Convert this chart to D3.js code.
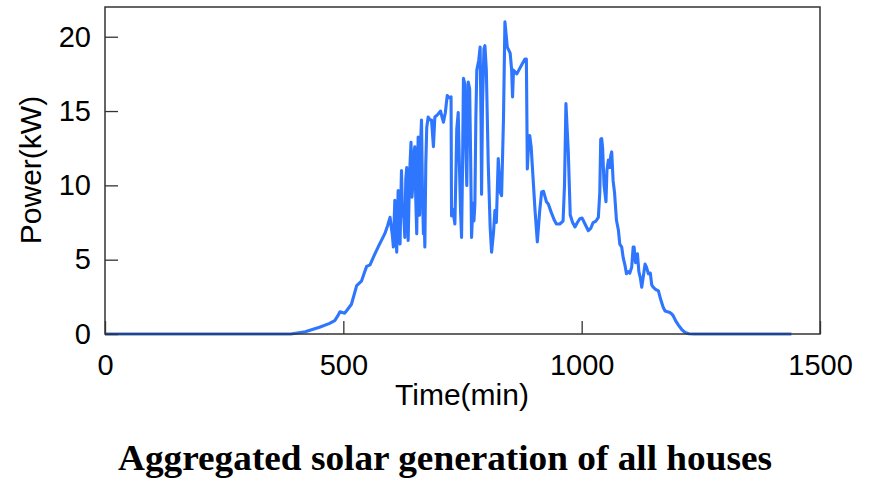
<!DOCTYPE html>
<html>
<head>
<meta charset="utf-8">
<script src="https://cdn.jsdelivr.net/npm/d3@7"></script>
<style>
  html, body { margin: 0; padding: 0; background: #fff; }
  svg { display: block; }
</style>
</head>
<body>
<svg id="chart" width="870" height="479"></svg>
<script>
// Aggregated solar generation, sampled minutes of the day (min) and power (kW)
const timeMin = [
  0, 390, 420, 450, 470, 482, 488, 493, 498, 503, 510, 517, 528, 533, 538, 545, 549, 556, 565, 573,
  580, 587, 593, 598, 603, 605, 608, 610, 612, 614, 615, 617, 619, 621, 622, 624, 627, 629, 631, 633,
  635, 636, 639, 642, 644, 647, 649, 650, 652, 654, 656, 657, 660, 662, 664, 666, 668, 669, 671, 673,
  675, 678, 682, 685, 687, 689, 692, 696, 699, 704, 707, 710, 714, 718, 722, 726, 727, 729, 731, 734,
  736, 738, 741, 743, 746, 748, 750, 752, 755, 757, 759, 762, 765, 767, 769, 772, 774, 776, 778, 780,
  784, 787, 789, 790, 792, 795, 797, 800, 804, 808, 811, 815, 818, 821, 825, 829, 832, 836, 839, 844,
  850, 853, 855, 857, 864, 874, 881, 884, 886, 888, 891, 894, 898, 902, 907, 912, 916, 920, 926, 930,
  936, 942, 947, 954, 961, 964, 967, 970, 972, 976, 981, 986, 991, 996, 1001, 1007, 1014, 1019, 1024, 1030,
  1035, 1038, 1040, 1042, 1044, 1047, 1051, 1053, 1056, 1059, 1061, 1063, 1066, 1069, 1073, 1077, 1080, 1084, 1087, 1091,
  1094, 1098, 1101, 1105, 1108, 1110, 1113, 1117, 1120, 1123, 1126, 1129, 1133, 1136, 1140, 1144, 1147, 1150, 1155, 1161,
  1166, 1171, 1175, 1180, 1185, 1189, 1192, 1197, 1203, 1210, 1217, 1225, 1235, 1300, 1440
];
const powerKW = [
  0, 0, 0.15, 0.45, 0.7, 0.9, 1.2, 1.5, 1.45, 1.4, 1.7, 2.0, 3.25, 3.4, 3.55, 4.2, 4.55, 4.65, 5.3, 5.85,
  6.3, 6.75, 7.3, 7.85, 6.6, 5.85, 9.0, 7.2, 5.5, 8.4, 9.65, 7.5, 6.05, 9.6, 11.0, 8.2, 7.8, 6.5, 10.4, 11.2,
  8.0, 6.3, 10.8, 12.9, 9.2, 10.55, 12.4, 12.6, 9.0, 6.75, 11.6, 13.25, 8.0, 12.8, 14.4, 9.5, 6.75, 8.6, 5.85, 11.5,
  13.9, 14.6, 14.4, 14.4, 13.5, 12.6, 14.6, 14.7, 14.8, 15.0, 14.6, 14.25, 14.9, 16.05, 15.9, 15.95, 7.95, 8.4, 8.1, 7.4,
  10.5, 13.8, 14.9, 12.0, 8.2, 6.5, 11.0, 17.2, 16.8, 12.5, 10.0, 16.95, 16.5, 12.0, 6.5, 8.8, 7.6, 8.75, 14.5, 17.75,
  18.4, 19.3, 14.0, 9.4, 15.5, 19.2, 19.4, 17.75, 11.45, 7.2, 5.5, 6.8, 8.3, 7.5, 11.8, 9.55, 9.3, 14.5, 21.0, 19.3,
  18.9, 17.8, 15.95, 17.75, 17.5, 18.1, 18.5, 18.5, 11.1, 12.4, 13.35, 12.6, 10.5, 8.4, 6.2, 8.3, 9.55, 9.6, 8.9, 8.75,
  8.2, 7.7, 7.4, 7.4, 7.6, 10.0, 15.5, 13.5, 12.2, 8.0, 7.5, 7.2, 7.5, 7.75, 7.8, 7.4, 6.95, 7.1, 7.5, 7.6,
  7.85, 9.5, 13.1, 13.15, 12.5, 10.0, 8.9, 11.0, 11.7, 11.2, 12.0, 12.25, 10.3, 9.5, 7.65, 7.0, 6.05, 5.85, 5.15, 4.6,
  4.05, 4.2, 4.1, 4.5, 5.85, 5.85, 4.8, 5.4, 4.2, 3.8, 3.15, 3.8, 4.7, 4.5, 4.05, 4.1, 3.3, 3.15, 3.0, 2.9,
  2.3, 1.8, 1.55, 1.5, 1.45, 1.35, 1.23, 0.9, 0.6, 0.3, 0.1, 0.02, 0, 0, 0
];
const xTicks = [0, 500, 1000, 1500];
const yTicks = [0, 5, 10, 15, 20];

const series = timeMin.map((t, i) => ({ t, v: powerKW[i] }));

const margin = { left: 105, top: 7, right: 50, bottom: 145 };
const width = 870, height = 479;
const innerW = width - margin.left - margin.right;   // 715
const innerH = height - margin.top - margin.bottom;  // 327

const svg = d3.select("#chart");
const g = svg.append("g").attr("transform", `translate(${margin.left},${margin.top})`);

const x = d3.scaleLinear().domain([0, 1500]).range([0, innerW]);
const y = d3.scaleLinear().domain([0, 22]).range([innerH, 0]);

const sansFont = "'Liberation Sans', Arial, Helvetica, sans-serif";

// generation curve
g.append("path")
  .datum(series)
  .attr("fill", "none")
  .attr("stroke", "#2f76ff")
  .attr("stroke-width", 3.1)
  .attr("stroke-linejoin", "round")
  .attr("d", d3.line().x(d => x(d.t)).y(d => y(d.v)));

// axes with inward ticks
const xAxis = g.append("g")
  .attr("transform", `translate(0,${innerH})`)
  .call(d3.axisBottom(x).tickValues(xTicks).tickSize(-13).tickPadding(20).tickFormat(d3.format("d")));
const yAxis = g.append("g")
  .call(d3.axisLeft(y).tickValues(yTicks).tickSize(-13).tickPadding(14).tickFormat(d3.format("d")));

[xAxis, yAxis].forEach(ax => {
  ax.select(".domain").remove();
  ax.selectAll(".tick line").attr("stroke", "#333").attr("stroke-width", 1.3);
  ax.selectAll(".tick text")
    .attr("fill", "#000")
    .style("font-family", sansFont)
    .style("font-size", "29px");
});

// frame
g.append("rect")
  .attr("x", 0).attr("y", 0)
  .attr("width", innerW).attr("height", innerH)
  .attr("fill", "none")
  .attr("stroke", "#333")
  .attr("stroke-width", 1.5);

// axis titles
svg.append("text")
  .attr("x", 462).attr("y", 405)
  .attr("text-anchor", "middle")
  .style("font-family", sansFont)
  .style("font-size", "30px")
  .text("Time(min)");

svg.append("text")
  .attr("transform", "translate(41,170) rotate(-90)")
  .attr("text-anchor", "middle")
  .style("font-family", sansFont)
  .style("font-size", "30px")
  .text("Power(kW)");

// caption
svg.append("text")
  .attr("x", 445).attr("y", 470)
  .attr("text-anchor", "middle")
  .attr("textLength", 654)
  .attr("lengthAdjust", "spacingAndGlyphs")
  .style("font-family", "'Liberation Serif', 'Times New Roman', serif")
  .style("font-weight", "bold")
  .style("font-size", "35px")
  .text("Aggregated solar generation of all houses");
</script>
</body>
</html>
